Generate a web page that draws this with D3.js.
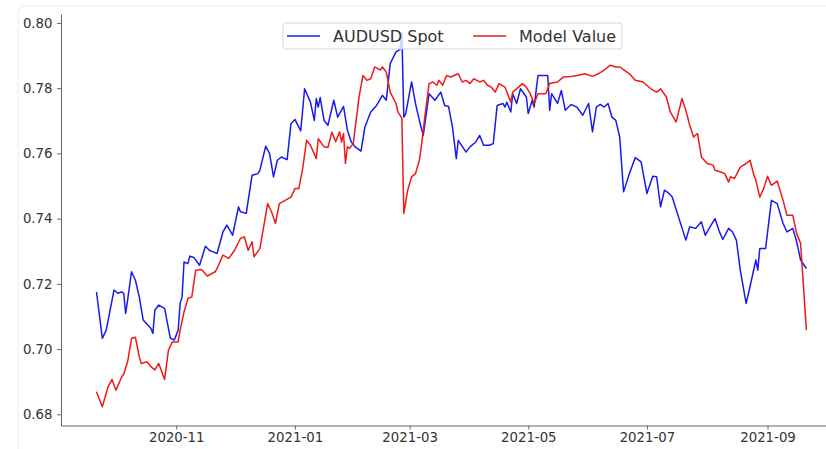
<!DOCTYPE html>
<html>
<head>
<meta charset="utf-8">
<script src="https://cdn.jsdelivr.net/npm/d3@7"></script>
<style>
  body { margin: 0; background: #fff; }
  svg { display: block; font-family: "DejaVu Sans", sans-serif; }
</style>
</head>
<body>
<svg width="826" height="449"></svg>
<script>
const spotDates = [
  "2020-09-21", "2020-09-24", "2020-09-26", "2020-09-30", "2020-10-02", "2020-10-04", "2020-10-05", "2020-10-06",
  "2020-10-07", "2020-10-09", "2020-10-11", "2020-10-13", "2020-10-15", "2020-10-19", "2020-10-20", "2020-10-21",
  "2020-10-23", "2020-10-26", "2020-10-29", "2020-10-31", "2020-11-02", "2020-11-03", "2020-11-04", "2020-11-05",
  "2020-11-07", "2020-11-08", "2020-11-10", "2020-11-13", "2020-11-16", "2020-11-18", "2020-11-20", "2020-11-22",
  "2020-11-25", "2020-11-27", "2020-11-30", "2020-12-03", "2020-12-04", "2020-12-07", "2020-12-10", "2020-12-13",
  "2020-12-14", "2020-12-17", "2020-12-19", "2020-12-21", "2020-12-23", "2020-12-25", "2020-12-28", "2020-12-30",
  "2021-01-01", "2021-01-04", "2021-01-06", "2021-01-09", "2021-01-11", "2021-01-12", "2021-01-13", "2021-01-14",
  "2021-01-16", "2021-01-18", "2021-01-21", "2021-01-23", "2021-01-26", "2021-01-28", "2021-01-30", "2021-02-01",
  "2021-02-04", "2021-02-06", "2021-02-09", "2021-02-12", "2021-02-15", "2021-02-17", "2021-02-19", "2021-02-22",
  "2021-02-24", "2021-02-25", "2021-02-26", "2021-02-27", "2021-03-02", "2021-03-04", "2021-03-06", "2021-03-08",
  "2021-03-11", "2021-03-14", "2021-03-17", "2021-03-19", "2021-03-21", "2021-03-23", "2021-03-25", "2021-03-26",
  "2021-03-30", "2021-04-01", "2021-04-04", "2021-04-06", "2021-04-07", "2021-04-08", "2021-04-11", "2021-04-13",
  "2021-04-15", "2021-04-18", "2021-04-19", "2021-04-20", "2021-04-22", "2021-04-23", "2021-04-25", "2021-04-27",
  "2021-04-30", "2021-05-01", "2021-05-03", "2021-05-04", "2021-05-06", "2021-05-11", "2021-05-12", "2021-05-13",
  "2021-05-16", "2021-05-18", "2021-05-20", "2021-05-23", "2021-05-26", "2021-05-29", "2021-06-01", "2021-06-03",
  "2021-06-05", "2021-06-07", "2021-06-09", "2021-06-11", "2021-06-13", "2021-06-15", "2021-06-17", "2021-06-19",
  "2021-06-22", "2021-06-25", "2021-06-28", "2021-07-01", "2021-07-04", "2021-07-06", "2021-07-08", "2021-07-10",
  "2021-07-12", "2021-07-14", "2021-07-21", "2021-07-23", "2021-07-26", "2021-07-29", "2021-07-31", "2021-08-03",
  "2021-08-05", "2021-08-07", "2021-08-09", "2021-08-12", "2021-08-14", "2021-08-16", "2021-08-18", "2021-08-21",
  "2021-08-23", "2021-08-26", "2021-08-27", "2021-08-28", "2021-08-31", "2021-09-03", "2021-09-06", "2021-09-09",
  "2021-09-11", "2021-09-14", "2021-09-16", "2021-09-18", "2021-09-21"
];
const spotValues = [
  0.7175, 0.7033, 0.7058, 0.7181, 0.7171, 0.7175, 0.7171, 0.7109,
  0.7150, 0.7237, 0.7211, 0.7160, 0.7089, 0.7063, 0.7048, 0.7119,
  0.7135, 0.7125, 0.7033, 0.7028, 0.7058, 0.7140, 0.7160, 0.7267,
  0.7262, 0.7285, 0.7281, 0.7257, 0.7315, 0.7303, 0.7298, 0.7293,
  0.7359, 0.7380, 0.7349, 0.7436, 0.7421, 0.7416, 0.7533, 0.7538,
  0.7548, 0.7622, 0.7599, 0.7528, 0.7579, 0.7589, 0.7581, 0.7691,
  0.7704, 0.7669, 0.7798, 0.7757, 0.7701, 0.7768, 0.7742, 0.7771,
  0.7701, 0.7686, 0.7763, 0.7711, 0.7744, 0.7671, 0.7635, 0.7620,
  0.7607, 0.7681, 0.7727, 0.7747, 0.7778, 0.7763, 0.7875, 0.7911,
  0.7918, 0.7970, 0.7711, 0.7722, 0.7819, 0.7753, 0.7701, 0.7655,
  0.7783, 0.7763, 0.7788, 0.7747, 0.7744, 0.7681, 0.7584, 0.7640,
  0.7604, 0.7620, 0.7635, 0.7655, 0.7640, 0.7625, 0.7625, 0.7630,
  0.7747, 0.7753, 0.7742, 0.7757, 0.7727, 0.7783, 0.7753, 0.7798,
  0.7773, 0.7722, 0.7763, 0.7742, 0.7839, 0.7839, 0.7732, 0.7783,
  0.7753, 0.7793, 0.7732, 0.7750, 0.7742, 0.7717, 0.7753, 0.7666,
  0.7742, 0.7750, 0.7742, 0.7753, 0.7711, 0.7701, 0.7650, 0.7482,
  0.7538, 0.7587, 0.7574, 0.7477, 0.7530, 0.7528, 0.7436, 0.7487,
  0.7479, 0.7466, 0.7334, 0.7375, 0.7370, 0.7390, 0.7349, 0.7380,
  0.7400, 0.7364, 0.7336, 0.7370, 0.7359, 0.7334, 0.7242, 0.7140,
  0.7191, 0.7273, 0.7242, 0.7308, 0.7308, 0.7456, 0.7446, 0.7385,
  0.7359, 0.7370, 0.7329, 0.7273, 0.7247
];

const modelDates = [
  "2020-09-21", "2020-09-24", "2020-09-27", "2020-09-29", "2020-10-01", "2020-10-04", "2020-10-05", "2020-10-07",
  "2020-10-09", "2020-10-11", "2020-10-13", "2020-10-14", "2020-10-17", "2020-10-19", "2020-10-21", "2020-10-23",
  "2020-10-26", "2020-10-28", "2020-10-30", "2020-11-02", "2020-11-03", "2020-11-05", "2020-11-07", "2020-11-09",
  "2020-11-11", "2020-11-14", "2020-11-17", "2020-11-21", "2020-11-22", "2020-11-25", "2020-11-28", "2020-12-01",
  "2020-12-04", "2020-12-06", "2020-12-08", "2020-12-10", "2020-12-11", "2020-12-14", "2020-12-18", "2020-12-20",
  "2020-12-22", "2020-12-24", "2020-12-27", "2020-12-30", "2021-01-01", "2021-01-03", "2021-01-05", "2021-01-07",
  "2021-01-09", "2021-01-12", "2021-01-13", "2021-01-16", "2021-01-18", "2021-01-20", "2021-01-22", "2021-01-24",
  "2021-01-25", "2021-01-26", "2021-01-27", "2021-01-28", "2021-01-29", "2021-01-31", "2021-02-03", "2021-02-05",
  "2021-02-07", "2021-02-09", "2021-02-11", "2021-02-14", "2021-02-15", "2021-02-17", "2021-02-19", "2021-02-22",
  "2021-02-23", "2021-02-25", "2021-02-26", "2021-02-28", "2021-03-02", "2021-03-04", "2021-03-06", "2021-03-07",
  "2021-03-09", "2021-03-11", "2021-03-13", "2021-03-15", "2021-03-16", "2021-03-18", "2021-03-20", "2021-03-22",
  "2021-03-26", "2021-03-28", "2021-03-30", "2021-04-01", "2021-04-03", "2021-04-06", "2021-04-08", "2021-04-10",
  "2021-04-12", "2021-04-14", "2021-04-16", "2021-04-19", "2021-04-20", "2021-04-22", "2021-04-23", "2021-04-26",
  "2021-04-28", "2021-04-30", "2021-05-02", "2021-05-04", "2021-05-06", "2021-05-10", "2021-05-12", "2021-05-16",
  "2021-05-19", "2021-05-23", "2021-05-26", "2021-05-30", "2021-06-03", "2021-06-06", "2021-06-09", "2021-06-12",
  "2021-06-15", "2021-06-17", "2021-06-22", "2021-06-25", "2021-06-29", "2021-07-03", "2021-07-06", "2021-07-08",
  "2021-07-11", "2021-07-13", "2021-07-16", "2021-07-19", "2021-07-21", "2021-07-23", "2021-07-25", "2021-07-27",
  "2021-07-29", "2021-08-01", "2021-08-04", "2021-08-05", "2021-08-08", "2021-08-10", "2021-08-12", "2021-08-13",
  "2021-08-15", "2021-08-18", "2021-08-21", "2021-08-23", "2021-08-25", "2021-08-26", "2021-08-28", "2021-08-30",
  "2021-09-01", "2021-09-03", "2021-09-06", "2021-09-09", "2021-09-11", "2021-09-14", "2021-09-16", "2021-09-18",
  "2021-09-21"
];
const modelValues = [
  0.6869, 0.6823, 0.6885, 0.6907, 0.6874, 0.6915, 0.6923, 0.6961,
  0.7033, 0.7036, 0.6976, 0.6956, 0.6961, 0.6946, 0.6936, 0.6956,
  0.6907, 0.6997, 0.7022, 0.7022, 0.7058, 0.7114, 0.7155, 0.7160,
  0.7242, 0.7244, 0.7224, 0.7237, 0.7247, 0.7288, 0.7278, 0.7303,
  0.7339, 0.7344, 0.7303, 0.7329, 0.7283, 0.7308, 0.7446, 0.7421,
  0.7385, 0.7446, 0.7456, 0.7466, 0.7492, 0.7492, 0.7553, 0.7640,
  0.7625, 0.7584, 0.7645, 0.7620, 0.7618, 0.7665, 0.7636, 0.7666,
  0.7635, 0.7661, 0.7569, 0.7620, 0.7615, 0.7630, 0.7773, 0.7839,
  0.7824, 0.7829, 0.7865, 0.7855, 0.7865, 0.7849, 0.7788, 0.7753,
  0.7727, 0.7707, 0.7416, 0.7487, 0.7528, 0.7538, 0.7579, 0.7620,
  0.7722, 0.7814, 0.7819, 0.7809, 0.7824, 0.7809, 0.7839, 0.7834,
  0.7844, 0.7819, 0.7824, 0.7814, 0.7829, 0.7819, 0.7824, 0.7809,
  0.7803, 0.7788, 0.7814, 0.7803, 0.7788, 0.7757, 0.7788, 0.7803,
  0.7814, 0.7803, 0.7783, 0.7753, 0.7783, 0.7783, 0.7814, 0.7819,
  0.7834, 0.7836, 0.7839, 0.7844, 0.7836, 0.7844, 0.7855, 0.7870,
  0.7865, 0.7865, 0.7844, 0.7824, 0.7819, 0.7798, 0.7788, 0.7798,
  0.7773, 0.7727, 0.7696, 0.7768, 0.7732, 0.7686, 0.7650, 0.7661,
  0.7589, 0.7569, 0.7564, 0.7548, 0.7543, 0.7538, 0.7512, 0.7528,
  0.7523, 0.7558, 0.7569, 0.7579, 0.7533, 0.7518, 0.7466, 0.7492,
  0.7530, 0.7502, 0.7515, 0.7456, 0.7410, 0.7410, 0.7354, 0.7324,
  0.7058
];

const yTicks = [0.68, 0.70, 0.72, 0.74, 0.76, 0.78, 0.80];
const xTicks = ["2020-11-01", "2021-01-01", "2021-03-01", "2021-05-01", "2021-07-01", "2021-09-01"];
const seriesNames = ["AUDUSD Spot", "Model Value"];
const seriesColors = ["#1a1aee", "#ee1a1a"];

const svg = d3.select("svg"),
  width = +svg.attr("width"),
  height = +svg.attr("height");

const parse = d3.timeParse("%Y-%m-%d");
const day = 864e5;

const spot = spotDates.map((d, i) => ({ date: parse(d), value: spotValues[i] }));
const model = modelDates.map((d, i) => ({ date: parse(d), value: modelValues[i] }));
const all = spot.concat(model);

// matplotlib style 5% margins
const [t0, t1] = d3.extent(all, d => d.date);
const tPad = (t1 - t0) * 0.05;
const [v0, v1] = d3.extent(all, d => d.value);
const vPad = (v1 - v0) * 0.05;

const x = d3.scaleTime()
  .domain([new Date(+t0 - tPad), new Date(+t1 + tPad)])
  .range([61, 61 + ((+t1 - +t0 + 2 * tPad) / day) * 1.945]);

const y = d3.scaleLinear()
  .domain([v0 - vPad, v1 + vPad])
  .range([425.5, 14]);

// faint figure frame
svg.append("rect")
  .attr("x", 18).attr("y", 6)
  .attr("width", 830).attr("height", 460)
  .attr("rx", 8)
  .attr("fill", "none")
  .attr("stroke", "#ececec");

const line = d3.line()
  .x(d => x(d.date))
  .y(d => y(d.value));

svg.append("g")
  .selectAll("path")
  .data([spot, model])
  .join("path")
  .attr("d", line)
  .attr("fill", "none")
  .attr("stroke", (d, i) => seriesColors[i])
  .attr("stroke-width", 1.5)
  .attr("stroke-linejoin", "round");

// Axes
const yAxis = svg.append("g")
  .attr("transform", `translate(${x.range()[0]},0)`)
  .call(d3.axisLeft(y).tickValues(yTicks).tickFormat(d3.format(".2f")).tickSize(4).tickPadding(4.5).tickSizeOuter(0));

const xAxis = svg.append("g")
  .attr("transform", `translate(0,${y.range()[0]})`)
  .call(d3.axisBottom(x).tickValues(xTicks.map(parse)).tickFormat(d3.timeFormat("%Y-%m")).tickSize(4).tickPadding(3).tickSizeOuter(0));

[yAxis, xAxis].forEach(g => {
  g.select(".domain").attr("stroke", "#666");
  g.selectAll(".tick line").attr("stroke", "#666");
  g.selectAll(".tick text")
    .attr("fill", "#333")
    .style("font-size", "13.3px")
    .style("font-family", "DejaVu Sans, sans-serif");
});

// Legend
const legend = svg.append("g").attr("transform", "translate(283,23)");

legend.append("rect")
  .attr("width", 339).attr("height", 26)
  .attr("rx", 3)
  .attr("fill", "#fff")
  .attr("fill-opacity", 0.8)
  .attr("stroke", "#d6d6d6");

const items = legend.selectAll("g.item")
  .data(seriesNames)
  .join("g")
  .attr("class", "item")
  .attr("transform", (d, i) => `translate(${i === 0 ? 4 : 190},13)`);

items.append("line")
  .attr("x1", 0).attr("x2", 33)
  .attr("stroke", (d, i) => seriesColors[i])
  .attr("stroke-width", 1.5);

items.append("text")
  .attr("x", 46)
  .attr("dy", "0.36em")
  .attr("fill", "#333")
  .style("font-size", "16px")
  .text(d => d);
</script>
</body>
</html>
